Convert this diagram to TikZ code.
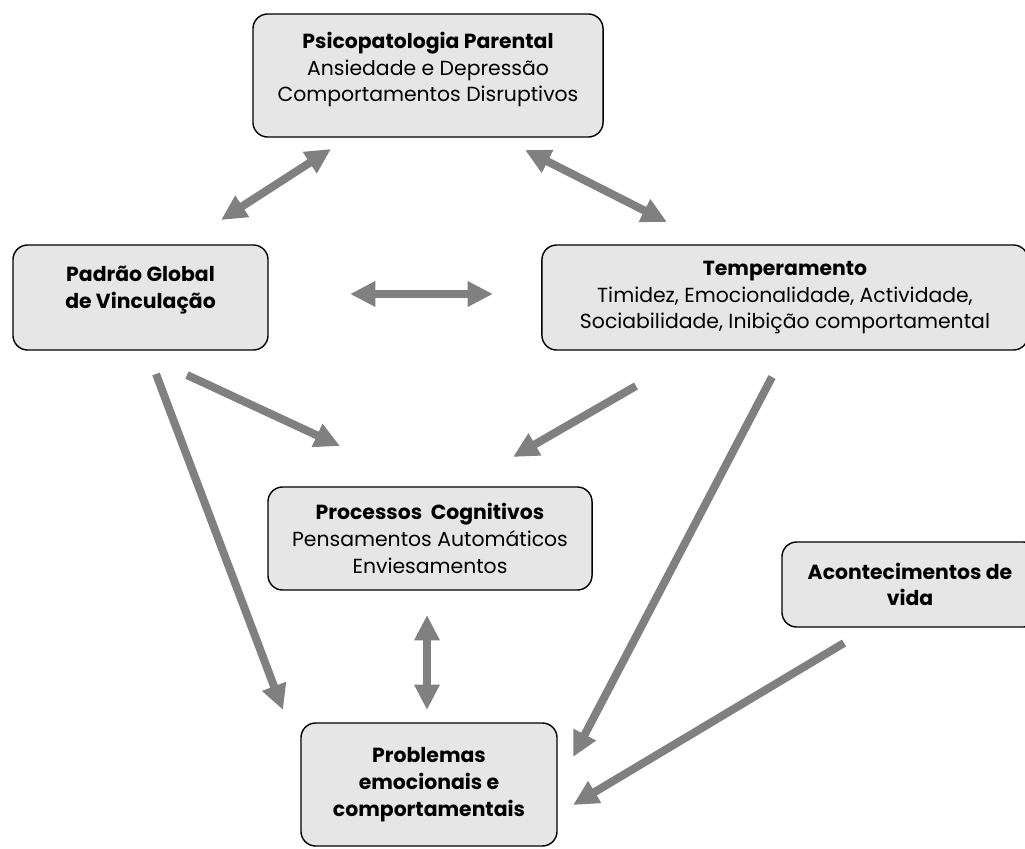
\documentclass[tikz,border=0pt]{standalone}
\usepackage{fontspec}
\setmainfont{Poppins}
\usetikzlibrary{arrows.meta}
\definecolor{boxgray}{RGB}{230,230,230}
\definecolor{arrowgray}{RGB}{128,128,128}

\begin{document}
\begin{tikzpicture}[x=0.025cm, y=-0.025cm,
    >={Triangle[length=18pt,width=17pt]},
    factor/.style ={rectangle, rounded corners=10.5pt, draw, line width=1pt,
      fill=boxgray, align=center, inner sep=0pt,
      font=\fontsize{14.5}{19}\selectfont},
    link/.style ={draw=arrowgray, line width=5.7pt, ->},
    mutual/.style ={draw=arrowgray, line width=5.7pt, <->}]
   \useasboundingbox (0,0) rectangle (1025,848);
   \node[factor, minimum width=8.75cm, minimum height=3.075cm, text depth=12pt] (psico) at (428,75.5)
     {\textbf{Psicopatologia Parental}\\Ansiedade e Depressão\\Comportamentos Disruptivos};
   \node[factor, minimum width=6.375cm, minimum height=2.625cm, text depth=14pt] (padrao) at (140.5,297.5)
     {\textbf{Padrão Global}\\\textbf{de Vinculação}};
   \node[factor, minimum width=12.15cm, minimum height=2.625cm] (temper) at (785,297.5)
     {\textbf{Temperamento}\\Timidez, Emocionalidade, Actividade,\\Sociabilidade, Inibição comportamental};
   \node[factor, minimum width=8.1cm, minimum height=2.575cm] (proc) at (430,538.5)
     {\textbf{Processos\ \ Cognitivos}\\Pensamentos Automáticos\\Enviesamentos};
   \node[factor, minimum width=6.4cm, minimum height=2.125cm] (acont) at (910,584.5)
     {\textbf{Acontecimentos de}\\\textbf{vida}};
   \node[factor, minimum width=6.4cm, minimum height=3.075cm] (probl) at (429,784.5)
     {\textbf{Problemas}\\\textbf{emocionais e}\\\textbf{comportamentais}};
   % arrow ends
   \coordinate (psicoL) at (331,149);
   \coordinate (padraoT) at (221,220);
   \coordinate (psicoR) at (525,150);
   \coordinate (temperT) at (667,222);
   \coordinate (padraoR) at (350,294);
   \coordinate (temperL) at (493,294);
   \coordinate (padraoB1) at (187,375);
   \coordinate (procL) at (340,446);
   \coordinate (temperB1) at (636,386);
   \coordinate (procR) at (513,457);
   \coordinate (padraoB2) at (156,374);
   \coordinate (problL) at (283,710);
   \coordinate (temperB2) at (772,377);
   \coordinate (problR1) at (573,757);
   \coordinate (procB) at (427,615);
   \coordinate (problT) at (427,710);
   \coordinate (acontB) at (844,643);
   \coordinate (problR2) at (573,805);
   \draw[mutual] (padraoT) to (psicoL);
   \draw[mutual] (psicoR) to (temperT);
   \draw[mutual] (padraoR) to (temperL);
   \draw[link] (padraoB1) to (procL);
   \draw[link] (temperB1) to (procR);
   \draw[link] (padraoB2) to (problL);
   \draw[link] (temperB2) to (problR1);
   \draw[mutual] (procB) to (problT);
   \draw[link] (acontB) to (problR2);
 \end{tikzpicture}
\end{document}
